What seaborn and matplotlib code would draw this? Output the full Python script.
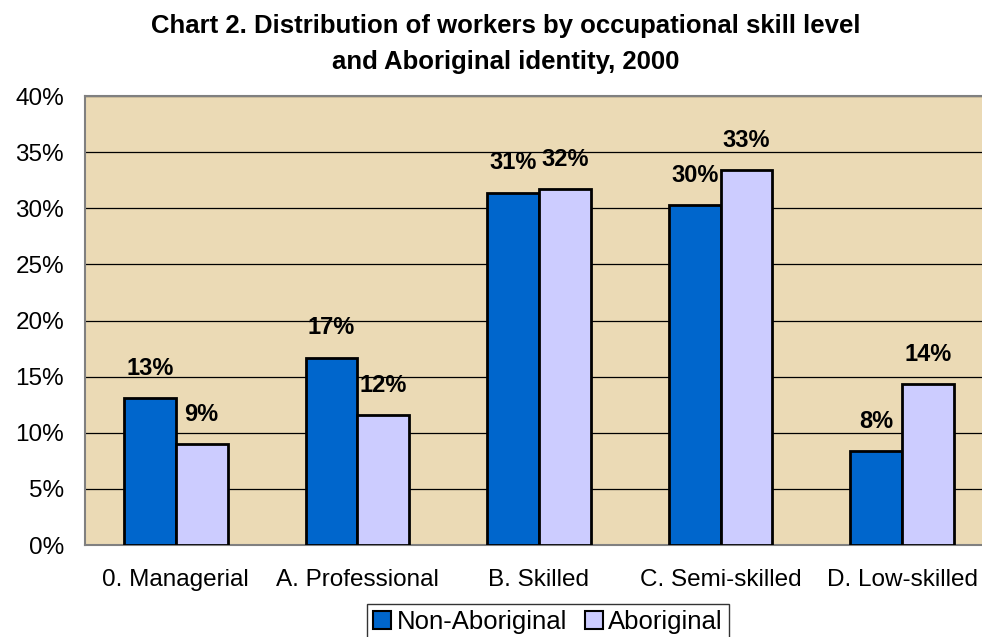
import pandas as pd
import numpy as np
import seaborn as sns
import matplotlib.pyplot as plt
from matplotlib.ticker import PercentFormatter, FixedLocator

categories = ['0. Managerial', 'A. Professional', 'B. Skilled', 'C. Semi-skilled', 'D. Low-skilled']
groups = ['Non-Aboriginal', 'Aboriginal']
non_aboriginal = [13.1, 16.7, 31.4, 30.3, 8.4]
aboriginal = [9.0, 11.6, 31.7, 33.4, 14.3]
colors = ['#0066CC', '#CCCCFF']

df = pd.DataFrame({
    'category': categories * 2,
    'group': [groups[0]] * len(categories) + [groups[1]] * len(categories),
    'share': non_aboriginal + aboriginal,
})

sns.set_style('white')
plt.rcParams['font.family'] = ['Liberation Sans', 'DejaVu Sans']
plt.rcParams['text.color'] = 'black'
plt.rcParams['xtick.color'] = 'black'
plt.rcParams['ytick.color'] = 'black'

fig = plt.figure(figsize=(9.82, 6.37), dpi=100)
ax = fig.add_axes([85 / 982, 1 - 545 / 637, 908 / 982, 449 / 637])
ax.set_facecolor('#EBDAB5')

sns.barplot(data=df, x='category', y='share', hue='group', hue_order=groups,
            palette=colors, width=0.57, edgecolor='black', linewidth=2,
            saturation=1, ax=ax, zorder=3)

for cont in ax.containers:
    ax.bar_label(cont, labels=[f'{b.get_height():.0f}%' for b in cont],
                 padding=13, fontsize=17, fontweight='bold', color='black')

ax.set_ylim(0, 40)
ax.set_xlim(-0.5, 4.5)
ax.set_yticks(np.arange(0, 41, 5))
ax.yaxis.set_major_formatter(PercentFormatter(decimals=0))
ax.grid(axis='y', color='black', linewidth=0.9, zorder=0)
ax.set_axisbelow(True)
ax.xaxis.set_minor_locator(FixedLocator([0.5, 1.5, 2.5, 3.5]))
ax.tick_params(axis='x', which='major', length=0, labelsize=17.5, pad=17)
ax.tick_params(axis='x', which='minor', length=8, width=1, color='#555555', direction='out')
ax.tick_params(axis='y', length=8, width=1, color='#555555', labelcolor='black',
               direction='out', labelsize=17.5, pad=7)
ax.set_xlabel('')
ax.set_ylabel('')
for s in ['left', 'bottom', 'top']:
    ax.spines[s].set_color('#808080')
    ax.spines[s].set_linewidth(1.5)
ax.spines['right'].set_visible(False)

handles = [plt.Rectangle((0, 0), 1, 1, facecolor=c, edgecolor='black', linewidth=1.5) for c in colors]
ax.legend(handles=handles, labels=groups, loc='upper center',
          bbox_to_anchor=(548 / 982, 1 - 604 / 637), bbox_transform=fig.transFigure,
          ncol=2, frameon=True, fancybox=False, edgecolor='black', fontsize=18.5,
          handlelength=0.7, handleheight=0.7, handletextpad=0.2, columnspacing=0.7,
          borderpad=0.25, borderaxespad=0)
ax.get_legend().get_frame().set_linewidth(1)

fig.text(506 / 982, 1 - 44 / 637,
         'Chart 2. Distribution of workers by occupational skill level\nand Aboriginal identity, 2000',
         ha='center', va='center', fontsize=18.5, fontweight='bold', linespacing=1.65)

fig.savefig('out.png', dpi=100, facecolor='white')
